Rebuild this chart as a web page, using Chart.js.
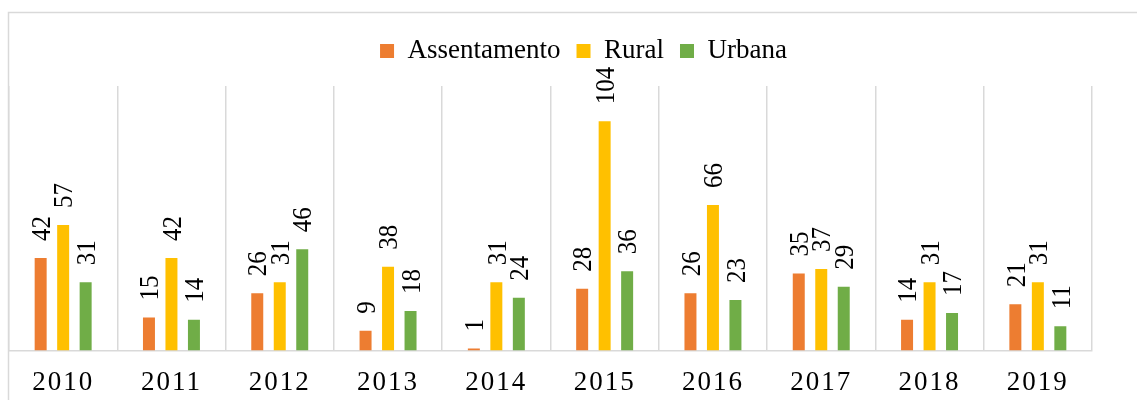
<!DOCTYPE html>
<html>
<head>
<meta charset="utf-8">
<script src="https://cdn.jsdelivr.net/npm/chart.js@4/dist/chart.umd.min.js"></script>
<style>
  html, body { margin: 0; padding: 0; background: #fff; overflow: hidden; }
  #wrap { position: absolute; left: 0; top: 0; width: 1166px; height: 400px; }
</style>
</head>
<body>
<div id="wrap"><canvas id="c" width="1166" height="400"></canvas></div>
<script>
const categories = ['2010', '2011', '2012', '2013', '2014', '2015', '2016', '2017', '2018', '2019'];
const assentamento = [42, 15, 26, 9, 1, 28, 26, 35, 14, 21];
const rural = [57, 42, 31, 38, 31, 104, 66, 37, 31, 31];
const urbana = [31, 14, 46, 18, 24, 36, 23, 29, 17, 11];
const yMax = 120;

const SERIF = '"Liberation Serif", "Times New Roman", serif';

class SpacedCategory extends Chart.CategoryScale {
  drawLabels(area) {
    const ctx = this.ctx;
    ctx.save();
    ctx.letterSpacing = '2px';
    super.drawLabels(area);
    ctx.restore();
  }
}
SpacedCategory.id = 'spacedCategory';
SpacedCategory.defaults = Chart.CategoryScale.defaults;
Chart.register(SpacedCategory);

const frame = {
  id: 'frame',
  beforeDraw(chart) {
    const ctx = chart.ctx;
    ctx.save();
    ctx.strokeStyle = '#d9d9d9';
    ctx.lineWidth = 1.5;
    ctx.strokeRect(8.5, 12.5, 1150, 500);
    ctx.restore();
  }
};

const valueLabels = {
  id: 'valueLabels',
  afterDatasetsDraw(chart) {
    const ctx = chart.ctx;
    const size = 25;
    const stretch = 1.12;
    const capH = 0.66 * size * stretch;
    ctx.save();
    ctx.font = size + 'px "Liberation Serif"';
    ctx.fillStyle = '#000';
    ctx.textAlign = 'left';
    ctx.textBaseline = 'alphabetic';
    chart.data.datasets.forEach((ds, i) => {
      const meta = chart.getDatasetMeta(i);
      meta.data.forEach((bar, j) => {
        ctx.save();
        ctx.translate(bar.x + capH / 2, bar.y - 17);
        ctx.rotate(-Math.PI / 2);
        ctx.scale(1, stretch);
        ctx.fillText(String(ds.data[j]), 0, 0);
        ctx.restore();
      });
    });
    ctx.restore();
  }
};

new Chart(document.getElementById('c'), {
  type: 'bar',
  data: {
    labels: categories,
    datasets: [
      { label: 'Assentamento', data: assentamento, backgroundColor: '#ED7D31' },
      { label: 'Rural', data: rural, backgroundColor: '#FFC000' },
      { label: 'Urbana', data: urbana, backgroundColor: '#70AD47' }
    ]
  },
  options: {
    responsive: false,
    animation: false,
    devicePixelRatio: 1,
    datasets: { bar: { categoryPercentage: 0.623, barPercentage: 0.533 } },
    layout: { padding: { left: 9, right: 8, top: 21.5, bottom: -15 } },
    plugins: {
      tooltip: { enabled: false },
      legend: {
        position: 'top',
        labels: {
          font: { family: SERIF, size: 27 },
          color: '#000',
          boxWidth: 14,
          boxHeight: 14,
          padding: 16
        }
      }
    },
    scales: {
      x: {
        type: 'spacedCategory',
        offset: true,
        grid: { display: true, offset: true, color: '#d9d9d9', lineWidth: 1.5, drawTicks: false },
        border: { display: true, color: '#d9d9d9', width: 1.5 },
        ticks: { font: { family: SERIF, size: 27 }, color: '#000', padding: 16, maxRotation: 0, autoSkip: false }
      },
      xTop: {
        type: 'category',
        position: 'top',
        grid: { display: false },
        border: { display: false },
        ticks: { display: false },
        afterFit(scale) { scale.height = 11.5; }
      },
      y: {
        position: 'right',
        min: 0,
        max: yMax,
        grid: { display: false },
        border: { display: false },
        ticks: { display: false },
        afterFit(scale) { scale.width = 66; }
      }
    }
  },
  plugins: [frame, valueLabels]
});
</script>
</body>
</html>
